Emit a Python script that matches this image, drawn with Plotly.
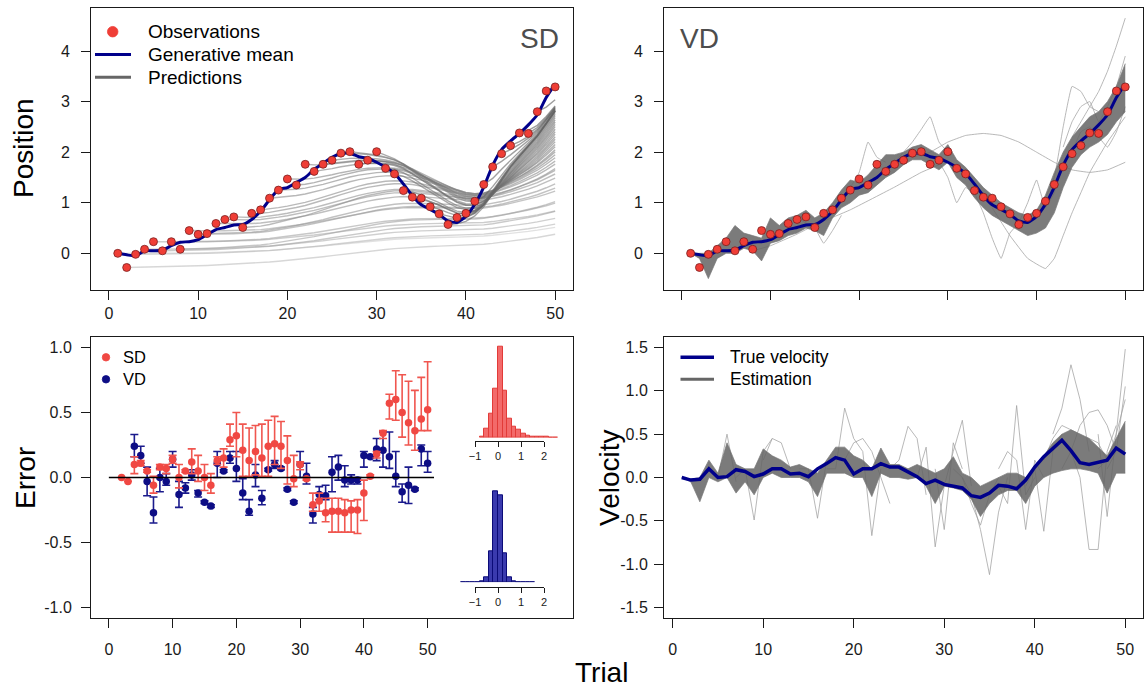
import math
import plotly.graph_objects as go

W, H = 1147, 688
FONT = "Liberation Sans, Arial, sans-serif"


def fx(x):
    return x / W


def fy(y):
    return 1 - y / H


# ---------------- data ----------------
trials = list(range(1, 51))
observations = [0.00, -0.28, -0.02, 0.08, 0.23, 0.05, 0.23, 0.08, 0.45, 0.375,
                0.39, 0.59, 0.67, 0.72, 0.51, 0.79, 0.86, 1.09, 1.25, 1.47,
                1.35, 1.76, 1.62, 1.76, 1.84, 1.98, 2.01, 1.76, 1.84, 2.01,
                1.68, 1.57, 1.24, 1.11, 1.09, 0.92, 0.78, 0.57, 0.71, 0.79,
                1.03, 1.36, 1.71, 1.97, 2.13, 2.38, 2.37, 2.80, 3.21, 3.29]
gen_mean = [0.00, -0.03, -0.05, 0.05, 0.05, 0.06, 0.15, 0.22, 0.23, 0.27,
            0.37, 0.47, 0.51, 0.56, 0.57, 0.67, 0.83, 1.06, 1.26, 1.30,
            1.40, 1.50, 1.66, 1.78, 1.90, 1.97, 1.98, 1.91, 1.88, 1.80,
            1.70, 1.58, 1.37, 1.14, 0.96, 0.87, 0.77, 0.64, 0.61, 0.73,
            0.97, 1.31, 1.74, 2.05, 2.22, 2.37, 2.54, 2.74, 3.08, 3.35]
true_velocity = [0.00, -0.03, -0.02, 0.10, 0.00, 0.01, 0.09, 0.07, 0.01, 0.04,
                 0.10, 0.10, 0.04, 0.05, 0.01, 0.10, 0.16, 0.23, 0.20, 0.04,
                 0.10, 0.10, 0.16, 0.12, 0.12, 0.07, 0.01, -0.07, -0.03, -0.08,
                 -0.10, -0.12, -0.21, -0.23, -0.18, -0.09, -0.10, -0.13, -0.03, 0.12,
                 0.24, 0.34, 0.43, 0.31, 0.17, 0.15, 0.17, 0.20, 0.34, 0.27]

# SD predictions: responsiveness of the forward prediction started at each trial
sd_pred_rate_base = 0.01
sd_pred_rate_gain = 0.2
sd_pred_rate_max = 0.32

# VD sampled trajectories: dense band envelope + individual outlying samples
vd_band_lo = [0.0, -0.1, -0.5, -0.1, 0.0, 0.0, 0.1, 0.05, -0.15, 0.2,
              0.25, 0.35, 0.4, 0.5, 0.45, 0.35, 0.7, 0.9, 1.0, 1.15,
              1.2, 1.35, 1.5, 1.6, 1.75, 1.85, 1.85, 1.75, 1.65, 1.8,
              1.5, 1.35, 1.1, 0.9, 0.75, 0.65, 0.55, 0.45, 0.35, 0.4,
              0.5, 0.8, 1.3, 1.7, 1.95, 2.1, 2.2, 2.35, 2.6, 2.8]
vd_band_hi = [0.0, 0.0, 0.0, 0.15, 0.3, 0.55, 0.4, 0.35, 0.3, 0.7,
              0.55, 0.7, 0.75, 0.85, 0.7, 0.8, 1.0, 1.25, 1.45, 1.4,
              1.55, 1.75, 1.95, 1.95, 2.0, 2.1, 2.15, 2.05, 1.95, 2.15,
              1.85, 1.7, 1.5, 1.3, 1.15, 1.0, 0.9, 0.8, 0.75, 0.85,
              1.15, 1.6, 2.0, 2.3, 2.5, 2.7, 2.8, 3.0, 3.3, 3.75]
vd_outliers = [
    ([26, 28, 30, 32, 34, 36, 38, 40, 42, 44, 46, 48, 50],
     [1.9, 2.0, 2.2, 2.33, 2.37, 2.33, 2.2, 2.0, 1.8, 1.65, 1.6, 1.65, 1.8]),
    ([8, 10, 13, 15, 19, 24, 27, 29], [0.05, 0.15, 0.38, 0.56, 0.86, 1.31, 1.6, 1.75]),
    ([35, 37, 39, 41, 42, 43, 44, 45, 46, 48, 50],
     [0.9, 0.35, -0.1, -0.3, -0.1, 0.35, 0.8, 1.2, 1.6, 2.2, 2.7]),
    ([33, 34, 35, 36, 37, 38], [1.2, 0.8, 0.3, -0.1, 0.4, 0.6]),
    ([44, 45, 46, 47, 48, 49, 50], [2.3, 2.6, 2.9, 3.2, 3.6, 4.1, 4.65]),
    ([41, 42, 43, 44, 45, 46, 47], [1.1, 1.5, 2.5, 3.3, 3.2, 2.9, 2.8]),
    ([24, 25, 26, 27, 28, 29, 30], [1.8, 2.0, 2.2, 2.45, 2.7, 2.2, 2.0]),
    ([28, 29, 30, 31, 32, 33], [1.9, 1.8, 1.5, 1.0, 1.3, 1.2]),
    ([18, 19, 20, 21, 22, 23], [1.0, 1.3, 1.6, 2.2, 1.9, 1.8]),
    ([13, 14, 15, 16, 17, 18], [0.7, 0.6, 0.5, 0.2, 0.45, 0.75]),
    ([38, 39, 40, 41, 42, 43], [0.6, 1.0, 1.45, 0.9, 1.2, 1.8]),
    ([44, 45, 46, 47, 48, 49, 50], [2.0, 2.4, 2.5, 2.3, 2.1, 2.4, 2.9]),
    ([43, 44, 45, 46, 47, 48, 49, 50], [2.1, 2.6, 2.9, 3.0, 2.6, 2.9, 3.3, 3.9]),
]

# Velocity estimations: dense band envelope + individual outlying samples
vel_band_lo = [0.0, -0.05, -0.28, 0.0, -0.05, 0.0, -0.18, -0.05, -0.2, 0.0,
               0.05, 0.0, 0.0, 0.0, -0.05, -0.22, 0.05, 0.05, 0.05, 0.0,
               0.0, -0.22, 0.05, 0.0, 0.0, -0.02, 0.0, -0.1, -0.3, -0.1,
               -0.12, -0.15, -0.25, -0.45, -0.3, -0.2, -0.15, -0.15, -0.3, -0.1,
               0.0, 0.05, 0.08, 0.1, 0.1, 0.08, 0.05, -0.18, 0.05, 0.05]
vel_band_hi = [0.0, -0.02, 0.0, 0.2, 0.05, 0.4, 0.15, 0.1, 0.1, 0.33,
               0.25, 0.2, 0.12, 0.15, 0.1, 0.05, 0.2, 0.35, 0.35, 0.25,
               0.2, 0.1, 0.34, 0.15, 0.15, 0.1, 0.15, 0.1, 0.05, 0.1,
               0.24, 0.05, 0.0, -0.1, -0.05, 0.0, 0.05, 0.05, 0.0, 0.1,
               0.25, 0.4, 0.5, 0.55, 0.5, 0.45, 0.35, 0.25, 0.45, 0.65]
vel_outliers = [
    ([42, 43, 44, 45, 46], [0.5, 0.8, 1.3, 0.9, 0.3]),
    ([47, 48, 49, 50], [0.1, 0.2, 0.5, 1.48]),
    ([44, 45, 46, 47, 48, 49], [0.3, 0.0, -0.83, -0.83, 0.3, 0.6]),
    ([32, 33, 34, 35, 36, 37], [0.0, -0.2, -0.6, -1.12, -0.4, 0.0]),
    ([36, 37, 38, 39, 40], [-0.1, -0.3, 0.83, -0.2, 0.0]),
    ([39, 40, 41, 42, 43], [-0.1, 0.1, -0.62, 0.3, 0.5]),
    ([27, 28, 29, 30, 31, 32, 33], [0.0, 0.35, -0.8, -0.1, 0.3, 0.66, -0.1]),
    ([17, 18, 19, 20, 21, 22, 23], [0.1, 0.1, 0.8, 0.45, 0.3, -0.67, 0.1]),
    ([14, 15, 16, 17], [0.1, 0.1, -0.47, 0.2]),
    ([7, 8, 9, 10, 11], [0.0, 0.1, -0.49, 0.3, 0.45]),
    ([24, 25, 26, 27, 28], [0.1, 0.2, 0.59, 0.45, -0.2]),
    ([43, 44, 45, 46, 47, 48, 49], [0.1, 0.3, 0.6, 0.75, 0.78, 0.6, 0.3]),
    ([5, 6, 7], [0.0, 0.5, -0.05]),
    ([10, 11, 12, 13], [0.2, 0.45, 0.4, 0.1]),
    ([29, 30, 31, 32], [0.1, -0.6, 0.4, 0.1]),
    ([36, 37, 38, 39, 40, 41], [0.1, 0.3, 0.2, -0.6, 0.2, 0.0]),
    ([47, 48, 49, 50], [0.5, -0.45, 0.5, 0.9]),
    ([19, 20, 21, 22, 23, 24], [0.2, 0.4, 0.45, 0.3, 0.0, -0.3]),
    ([41, 42, 43, 44, 45, 46, 47, 48], [0.2, 0.45, 0.6, 0.55, 0.5, 0.45, 0.4, 0.2]),
    ([48, 49, 50], [0.1, 0.3, 1.05]),
    ([31, 32, 33, 34, 35, 36], [0.1, 0.0, -0.3, -0.55, -0.2, 0.0]),
]

# Error panel
sd_err_trials = list(range(2, 51))
sd_err = [0.00, -0.03, 0.10, 0.11, 0.05, -0.06, 0.08, 0.07, 0.14, 0.00,
          0.05, 0.12, 0.05, 0.00, -0.06, 0.13, 0.15, 0.29, 0.32, 0.21,
          0.13, 0.20, 0.15, 0.24, 0.26, 0.24, 0.13, -0.01, 0.10, -0.01,
          -0.21, -0.18, -0.27, -0.26, -0.26, -0.27, -0.25, -0.25, -0.12, 0.01,
          0.18, 0.34, 0.57, 0.60, 0.50, 0.42, 0.36, 0.45, 0.52]
sd_err_hi = [0.00, -0.03, 0.16, 0.13, 0.06, 0.01, 0.10, 0.10, 0.17, 0.10,
             0.06, 0.22, 0.17, 0.10, 0.03, 0.16, 0.22, 0.41, 0.50, 0.41,
             0.38, 0.40, 0.41, 0.44, 0.47, 0.43, 0.32, 0.17, 0.12, 0.00,
             -0.12, -0.12, -0.16, -0.16, -0.16, -0.17, -0.18, -0.17, -0.02, 0.02,
             0.20, 0.36, 0.64, 0.82, 0.79, 0.74, 0.67, 0.77, 0.89]
sd_err_lo = [0.00, -0.03, 0.03, 0.09, 0.04, -0.12, 0.06, 0.03, 0.11, -0.08,
             0.04, 0.03, -0.03, -0.10, -0.12, 0.10, 0.08, 0.24, 0.16, 0.01,
             0.01, 0.02, 0.01, 0.01, 0.10, 0.07, -0.05, -0.07, 0.06, -0.02,
             -0.26, -0.26, -0.34, -0.42, -0.42, -0.42, -0.42, -0.43, -0.33, 0.00,
             0.15, 0.30, 0.45, 0.44, 0.31, 0.25, 0.21, 0.36, 0.36]

vd_err_trials = list(range(4, 51))
vd_err = [0.24, 0.17, -0.03, -0.27, 0.00, -0.03, 0.14, -0.13, -0.08, 0.02,
          -0.12, -0.19, -0.22, 0.11, 0.05, 0.15, 0.07, -0.12, -0.26, 0.02,
          -0.16, 0.06, 0.10, 0.07, -0.09, -0.19, 0.10, 0.01, -0.28, -0.13,
          -0.14, 0.04, 0.08, -0.02, -0.02, -0.02, 0.17, 0.16, 0.22, 0.21,
          0.16, 0.01, -0.11, -0.06, -0.09, 0.22, 0.11]
vd_err_hi = [0.33, 0.24, 0.08, -0.15, 0.07, 0.03, 0.20, -0.03, -0.04, 0.06,
             -0.10, -0.18, -0.21, 0.20, 0.06, 0.20, 0.20, -0.01, -0.17, 0.10,
             -0.10, 0.07, 0.13, 0.08, -0.08, -0.18, 0.20, 0.11, -0.23, -0.07,
             -0.06, 0.16, 0.17, 0.09, 0.02, 0.00, 0.20, 0.17, 0.30, 0.35,
             0.35, 0.20, -0.05, 0.08, -0.08, 0.25, 0.20]
vd_err_lo = [0.16, 0.11, -0.14, -0.35, -0.11, -0.06, 0.08, -0.23, -0.12, -0.02,
             -0.15, -0.20, -0.23, 0.00, 0.04, 0.11, -0.03, -0.17, -0.29, -0.07,
             -0.21, 0.05, 0.07, 0.06, -0.10, -0.20, 0.00, -0.05, -0.35, -0.17,
             -0.17, -0.11, -0.02, -0.07, -0.05, -0.05, 0.08, 0.15, 0.13, 0.08,
             0.07, -0.07, -0.19, -0.20, -0.10, 0.09, 0.04]

# Histograms of errors (bin centres, counts)
sd_hist_centers = [-0.7, -0.5, -0.3, -0.1, 0.1, 0.3, 0.5, 0.7, 0.9, 1.1, 1.3, 1.5, 1.7, 1.9, 2.1, 2.3, 2.5]
sd_hist_counts = [3, 26, 71, 148, 273, 140, 58, 33, 23, 11, 7, 4, 3, 2, 2, 1, 1]
vd_hist_centers = [-1.5, -1.3, -1.1, -0.9, -0.7, -0.5, -0.3, -0.1, 0.1, 0.3, 0.5, 0.7, 0.9, 1.1, 1.3, 1.5]
vd_hist_counts = [1, 1, 1, 1, 2, 16, 92, 274, 260, 87, 16, 3, 1, 1, 1, 1]

x_ticks = [0, 10, 20, 30, 40, 50]
pos_ticks = [0, 1, 2, 3, 4]
err_ticks = [-1.0, -0.5, 0.0, 0.5, 1.0]
vel_ticks = [-1.5, -1.0, -0.5, 0.0, 0.5, 1.0, 1.5]
hist_ticks = [-1, 0, 1, 2]

assert len(sd_err) == len(sd_err_hi) == len(sd_err_lo) == len(sd_err_trials)
assert len(vd_err) == len(vd_err_hi) == len(vd_err_lo) == len(vd_err_trials)

# ---------------- colours ----------------
RED = "#ef3e36"
RED_EDGE = "#7a1f1f"
NAVY = "#00008b"
BAND = "rgba(100,100,100,0.85)"
OUT = "rgba(160,160,160,0.75)"

fig = go.Figure()

# ---- SD panel: prediction fan ----
n = len(trials)
for k in range(1, n):
    a = sd_pred_rate_base + sd_pred_rate_gain * (k / 30.0) ** 2
    a = min(a, sd_pred_rate_max)
    p = observations[k - 1]
    xs, ys = [trials[k - 1]], [p]
    for t in range(k, n):
        p = p + a * (gen_mean[t] - p)
        xs.append(trials[t])
        ys.append(p)
    g = int(205 - 115 * math.sqrt((k - 1) / (n - 2)))
    fig.add_trace(go.Scatter(x=xs, y=ys, mode="lines", xaxis="x", yaxis="y",
                             line=dict(color=f"rgba({g},{g},{g},0.6)", width=1.4),
                             hoverinfo="skip", showlegend=False))
fig.add_trace(go.Scatter(x=trials, y=gen_mean, mode="lines", xaxis="x", yaxis="y",
                         line=dict(color=NAVY, width=3, shape="spline", smoothing=0.6),
                         showlegend=False))
fig.add_trace(go.Scatter(x=trials, y=observations, mode="markers", xaxis="x", yaxis="y",
                         marker=dict(color=RED, size=8, line=dict(color=RED_EDGE, width=0.8)),
                         showlegend=False))

# ---- VD panel ----
for xs, ys in vd_outliers:
    fig.add_trace(go.Scatter(x=xs, y=ys, mode="lines", xaxis="x2", yaxis="y2",
                             line=dict(color=OUT, width=1, shape="spline", smoothing=0.3),
                             showlegend=False, hoverinfo="skip"))
fig.add_trace(go.Scatter(x=trials, y=vd_band_lo, mode="lines", xaxis="x2", yaxis="y2",
                         line=dict(color="rgba(120,120,120,0.7)", width=1), showlegend=False))
fig.add_trace(go.Scatter(x=trials, y=vd_band_hi, mode="lines", xaxis="x2", yaxis="y2",
                         line=dict(color="rgba(120,120,120,0.7)", width=1),
                         fill="tonexty", fillcolor=BAND, showlegend=False))
fig.add_trace(go.Scatter(x=trials, y=gen_mean, mode="lines", xaxis="x2", yaxis="y2",
                         line=dict(color=NAVY, width=3, shape="spline", smoothing=0.6),
                         showlegend=False))
fig.add_trace(go.Scatter(x=trials, y=observations, mode="markers", xaxis="x2", yaxis="y2",
                         marker=dict(color=RED, size=8, line=dict(color=RED_EDGE, width=0.8)),
                         showlegend=False))

# ---- Error panel ----
fig.add_shape(type="line", xref="x3", yref="y3", x0=0, x1=51, y0=0, y1=0,
              line=dict(color="black", width=1.5))
fig.add_trace(go.Scatter(
    x=vd_err_trials, y=vd_err, mode="markers", xaxis="x3", yaxis="y3",
    marker=dict(color="#0d0d85", size=7.5),
    error_y=dict(type="data", symmetric=False,
                 array=[h - v for h, v in zip(vd_err_hi, vd_err)],
                 arrayminus=[v - l for v, l in zip(vd_err, vd_err_lo)],
                 color="#1a1a8c", thickness=1.6, width=4),
    showlegend=False))
fig.add_trace(go.Scatter(
    x=sd_err_trials, y=sd_err, mode="markers", xaxis="x3", yaxis="y3",
    marker=dict(color="#f04843", size=7.5),
    error_y=dict(type="data", symmetric=False,
                 array=[h - v for h, v in zip(sd_err_hi, sd_err)],
                 arrayminus=[v - l for v, l in zip(sd_err, sd_err_lo)],
                 color="#f0564f", thickness=1.6, width=4),
    showlegend=False))

# histograms
fig.add_trace(go.Bar(x=sd_hist_centers, y=sd_hist_counts, width=0.2, xaxis="x5", yaxis="y5",
                     marker=dict(color="rgba(242,98,98,0.95)", line=dict(color="#e23b38", width=1)),
                     showlegend=False))
fig.add_trace(go.Bar(x=vd_hist_centers, y=vd_hist_counts, width=0.2, xaxis="x6", yaxis="y6",
                     marker=dict(color="#3a3aae", line=dict(color="#0b0b78", width=1)),
                     showlegend=False))
# invisible anchors so the small R-style histogram axes get drawn
for xa, ya in (("x7", "y7"), ("x8", "y8")):
    fig.add_trace(go.Scatter(x=[hist_ticks[0], hist_ticks[-1]], y=[0.5, 0.5], mode="markers",
                             marker=dict(opacity=0), xaxis=xa, yaxis=ya,
                             showlegend=False, hoverinfo="skip"))

# ---- Velocity panel ----
for xs, ys in vel_outliers:
    fig.add_trace(go.Scatter(x=xs, y=ys, mode="lines", xaxis="x4", yaxis="y4",
                             line=dict(color=OUT, width=1), showlegend=False, hoverinfo="skip"))
fig.add_trace(go.Scatter(x=trials, y=vel_band_lo, mode="lines", xaxis="x4", yaxis="y4",
                         line=dict(color="rgba(120,120,120,0.7)", width=1), showlegend=False))
fig.add_trace(go.Scatter(x=trials, y=vel_band_hi, mode="lines", xaxis="x4", yaxis="y4",
                         line=dict(color="rgba(120,120,120,0.7)", width=1),
                         fill="tonexty", fillcolor=BAND, showlegend=False))
fig.add_trace(go.Scatter(x=trials, y=true_velocity, mode="lines", xaxis="x4", yaxis="y4",
                         line=dict(color=NAVY, width=3.5), showlegend=False))

# ---------------- layout ----------------
tickfont = dict(family=FONT, size=16, color="#1a1a1a")


def box_axis(**kw):
    d = dict(showline=True, linecolor="#1a1a1a", linewidth=1, mirror=True,
             ticks="outside", ticklen=9, tickwidth=1, tickcolor="#1a1a1a",
             showgrid=False, zeroline=False, tickfont=tickfont, fixedrange=True,
             automargin=False)
    d.update(kw)
    return d


def hidden_axis(dom, rng, anchor):
    return dict(domain=dom, range=rng, visible=False, anchor=anchor, fixedrange=True,
                automargin=False)


def hist_axis(dom, anchor):
    return dict(domain=dom, range=[-1, 2], tickvals=hist_ticks, showline=True, anchor=anchor,
                linecolor="#1a1a1a", linewidth=1, ticks="outside", ticklen=5,
                tickcolor="#1a1a1a", showgrid=False, zeroline=False, fixedrange=True,
                automargin=False,
                tickfont=dict(family=FONT, size=11, color="#1a1a1a"), ticklabelstandoff=0)


top_y = [fy(290), fy(8)]
bot_y = [fy(618), fy(337)]
left_x = [fx(91), fx(573)]
right_x = [fx(664), fx(1143)]

hx_dom = [fx(455), fx(565)]
hx_rng = [-1 - 20 / 23.0, 2 + 21 / 23.0]

fig.update_layout(
    width=W, height=H, autosize=False,
    margin=dict(l=0, r=0, t=0, b=0, pad=0, autoexpand=False),
    paper_bgcolor="white", plot_bgcolor="rgba(0,0,0,0)",
    showlegend=False, bargap=0,
    xaxis=box_axis(domain=left_x, range=[-2, 52], tickvals=x_ticks, anchor="y", ticklabelstandoff=0),
    yaxis=box_axis(domain=top_y, range=[-0.725, 4.85], tickvals=pos_ticks, anchor="x", ticklabelstandoff=8),
    xaxis2=box_axis(domain=right_x, range=[-2, 52], tickvals=x_ticks, showticklabels=False, anchor="y2"),
    yaxis2=box_axis(domain=top_y, range=[-0.725, 4.85], tickvals=pos_ticks, anchor="x2", ticklabelstandoff=8),
    xaxis3=box_axis(domain=left_x, range=[-2.8, 72.8], tickvals=x_ticks, anchor="y3", ticklabelstandoff=8),
    yaxis3=box_axis(domain=bot_y, range=[-1.08, 1.08], tickvals=err_ticks,
                    ticktext=[f"{v:.1f}" for v in err_ticks], anchor="x3", ticklabelstandoff=6),
    xaxis4=box_axis(domain=right_x, range=[-0.96, 51.96], tickvals=x_ticks, anchor="y4", ticklabelstandoff=8),
    yaxis4=box_axis(domain=bot_y, range=[-1.62, 1.62], tickvals=vel_ticks,
                    ticktext=[f"{v:.1f}" for v in vel_ticks], anchor="x4", ticklabelstandoff=3),
    xaxis5=hidden_axis(hx_dom, hx_rng, "y5"),
    yaxis5=hidden_axis([fy(437.7), fy(337.7)], [0, 300], "x5"),
    xaxis6=hidden_axis(hx_dom, hx_rng, "y6"),
    yaxis6=hidden_axis([fy(582.3), fy(482.3)], [0, 300], "x6"),
    xaxis7=hist_axis([fx(475), fx(544)], "y7"),
    yaxis7=hidden_axis([fy(441), fy(430)], [0, 1], "x7"),
    xaxis8=hist_axis([fx(475), fx(544)], "y8"),
    yaxis8=hidden_axis([fy(586.5), fy(575)], [0, 1], "x8"),
)


def text(s, x, y, size, anchor="left", color="black", angle=0):
    fig.add_annotation(text=s, x=fx(x), y=fy(y), xref="paper", yref="paper",
                       xanchor=anchor, yanchor="middle", showarrow=False, textangle=angle,
                       font=dict(family=FONT, size=size, color=color))


def dot(cx, cy, d, color, edge=None):
    r = d / 2
    fig.add_shape(type="circle", xref="paper", yref="paper",
                  x0=fx(cx - r), x1=fx(cx + r), y0=fy(cy + r), y1=fy(cy - r),
                  fillcolor=color, line=dict(color=edge or color, width=0.8))


def seg(x0, x1, y, color, width):
    fig.add_shape(type="line", xref="paper", yref="paper",
                  x0=fx(x0), x1=fx(x1), y0=fy(y), y1=fy(y), line=dict(color=color, width=width))


# axis titles
text("Position", 24, 148, 28, anchor="center", angle=-90)
text("Error", 25, 478, 28, anchor="center", angle=-90)
text("Velocity", 609, 478, 28, anchor="center", angle=-90)
text("Trial", 601, 672, 28, anchor="center")
text("SD", 561, 39, 28, anchor="right", color="#4d4d4d")
text("VD", 678, 39, 28, anchor="left", color="#4d4d4d")

# legend top-left
dot(112.7, 31.7, 10.5, RED)
seg(95, 131, 54.5, NAVY, 3)
seg(95, 131, 77.3, "#666666", 3)
text("Observations", 146, 31.7, 19)
text("Generative mean", 146, 54.5, 19)
text("Predictions", 146, 77.3, 19)

# legend bottom-left
dot(106, 357.3, 7.5, "#f04843")
dot(106, 379.3, 7.5, "#0d0d85")
text("SD", 121, 357.3, 16.5)
text("VD", 121, 379.3, 16.5)

# legend bottom-right
seg(680.5, 714, 357.3, NAVY, 3.5)
seg(680.5, 714, 379.3, "#666666", 3)
text("True velocity", 728, 357.3, 17.5)
text("Estimation", 728, 379.3, 17.5)

fig.write_html("out.html")
